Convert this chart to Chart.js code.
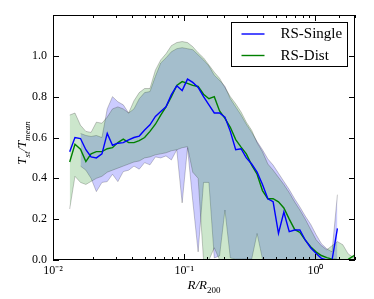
<!DOCTYPE html>
<html><head><meta charset="utf-8">
<script src="https://cdn.jsdelivr.net/npm/chart.js@4.4.1/dist/chart.umd.min.js"></script>
<style>html,body{margin:0;padding:0;background:#fff}</style>
</head><body>
<canvas id="c" width="374" height="299"></canvas>
<script>
// R/R200 bin centres
const radius = [0.0134,0.0147,0.0162,0.0178,0.0195,0.0214,0.0236,0.0259,0.0284,0.0312,
  0.0343,0.0377,0.0414,0.0454,0.0499,0.0548,0.0603,0.0662,0.0726,0.0798,
  0.0877,0.0964,0.1059,0.1161,0.1276,0.1403,0.1542,0.1694,0.1858,0.2042,
  0.2244,0.2466,0.2710,0.2972,0.3266,0.3589,0.3945,0.4335,0.4753,0.5224,
  0.5741,0.6310,0.6934,0.7603,0.8356,0.9183,1.009,1.109,1.219,1.337,
  1.469,1.614,1.774,1.950,2.138];

// RS-Single
const singleMean = [0.53,0.60,0.595,0.54,0.505,0.50,0.52,0.62,0.562,0.572,
  0.575,0.588,0.60,0.607,0.637,0.662,0.703,0.727,0.75,0.81,
  0.853,0.83,0.886,0.87,0.845,0.80,0.76,0.72,0.72,0.70,
  0.63,0.54,0.545,0.50,0.47,0.43,0.37,0.30,0.286,0.13,
  0.235,0.139,0.147,0.147,0.098,0.06,0.033,0.008,0.0,0.0,
  0.155,null,null,null,null];
const singleUpper = [null,null,0.62,0.61,0.605,0.61,0.60,0.74,0.80,0.775,
  0.76,0.72,0.74,0.79,0.82,0.825,0.90,0.965,0.99,1.02,
  1.035,1.04,1.035,1.03,1.005,0.98,0.95,0.905,0.88,0.85,
  0.79,0.75,0.71,0.665,0.625,0.58,0.54,0.495,0.465,0.425,
  0.385,0.345,0.30,0.26,0.215,0.175,0.125,0.08,0.055,0.04,
  0.32,null,null,null,null];
const singleLower = [null,null,0.46,0.44,0.40,0.335,0.38,0.384,0.42,0.384,
  0.433,0.44,0.46,0.445,0.477,0.466,0.505,0.50,0.51,0.49,
  0.54,0.28,0.55,0.29,0.04,0.38,0.38,0.01,0.02,0.245,
  0.01,0.005,0.005,0.005,0.005,0.13,0.005,0.0,0.0,0.0,
  0.0,0.0,0.0,0.0,0.0,0.0,0.0,0.0,0.0,0.0,
  0.0,null,null,null,null];

// RS-Dist
const distMean = [0.48,0.567,0.543,0.482,0.52,0.531,0.531,0.545,0.55,0.575,
  0.592,0.575,0.575,0.585,0.60,0.63,0.665,0.71,0.75,0.80,
  0.855,0.874,0.865,0.855,0.85,0.812,0.79,0.80,0.73,0.694,
  0.65,0.59,0.553,0.52,0.465,0.42,0.34,0.30,0.30,0.285,
  0.255,0.20,0.15,0.135,0.097,0.065,0.04,0.022,0.012,0.004,
  0.001,0.0,0.003,0.02,0.04];
const distUpper = [0.71,0.72,0.66,0.63,0.625,0.675,0.67,0.70,0.74,0.75,
  0.74,0.72,0.78,0.82,0.84,0.84,0.93,0.98,1.01,1.05,
  1.065,1.07,1.065,1.045,1.015,0.99,0.955,0.92,0.89,0.845,
  0.80,0.765,0.725,0.675,0.635,0.575,0.53,0.47,0.44,0.405,
  0.37,0.33,0.285,0.245,0.20,0.15,0.10,0.07,0.05,0.07,
  0.09,0.075,0.03,0.012,0.01];
const distLower = [0.25,0.41,0.38,0.37,0.385,0.40,0.41,0.43,0.44,0.45,
  0.46,0.47,0.48,0.485,0.50,0.505,0.515,0.52,0.525,0.535,
  0.54,0.55,0.555,0.43,0.40,0.0,0.0,0.06,0.0,0.0,
  0.0,0.0,0.0,0.0,0.0,0.0,0.0,0.0,0.0,0.0,
  0.0,0.0,0.0,0.0,0.0,0.0,0.0,0.0,0.0,0.0,
  0.0,0.0,0.0,0.0,0.0];

const yTickLabels = ['0.0','0.2','0.4','0.6','0.8','1.0'];
const seriesNames = ['RS-Single','RS-Dist'];
const xTitle = [['R/R', 'main'], ['200', 'sub']];
const yTitle = [['T', 'main'], ['st', 'sub'], ['/T', 'main'], ['mean', 'sub']];

const SERIF = "'Liberation Serif','Times New Roman',serif";
const pts = arr => radius.map((x,i) => ({x, y: arr[i]}));
const SUP = {'-':'\u207B','0':'\u2070','1':'\u00B9','2':'\u00B2','3':'\u00B3','4':'\u2074','5':'\u2075','6':'\u2076','7':'\u2077','8':'\u2078','9':'\u2079'};
const sup = n => String(n).split('').map(c => SUP[c]).join('');
const isPow10 = v => { const l = Math.log10(v); return Math.abs(l - Math.round(l)) < 1e-6; };

function drawRich(ctx, parts, digitsUpright) {
  const fontOf = (kind, txt) => {
    const italic = !(digitsUpright && /^[0-9]+$/.test(txt));
    return (italic ? 'italic ' : '') + (kind === 'main' ? '13px ' : '9px ') + SERIF;
  };
  let w = 0;
  parts.forEach(([t, k]) => { ctx.font = fontOf(k, t); w += ctx.measureText(t).width; });
  let x = -w / 2;
  parts.forEach(([t, k]) => {
    ctx.font = fontOf(k, t);
    ctx.fillText(t, x, k === 'sub' ? 3.5 : 0);
    x += ctx.measureText(t).width;
  });
}

const frameTicks = {
  id: 'frameTicks',
  afterDatasetsDraw(chart) {
    const {ctx, chartArea, scales} = chart;
    const L = Math.round(chartArea.left), R = Math.round(chartArea.right);
    const T = Math.round(chartArea.top), B = Math.round(chartArea.bottom);
    ctx.save();
    ctx.strokeStyle = '#000'; ctx.lineWidth = 1;
    ctx.beginPath();
    scales.x.ticks.forEach(t => {
      const px = Math.round(scales.x.getPixelForValue(t.value)) + 0.5;
      if (px < L || px > R + 1) return;
      const len = isPow10(t.value) ? 6 : 3;
      ctx.moveTo(px, B); ctx.lineTo(px, B - len);
      ctx.moveTo(px, T); ctx.lineTo(px, T + len);
    });
    scales.y.ticks.forEach(t => {
      const py = Math.round(scales.y.getPixelForValue(t.value)) + 0.5;
      ctx.moveTo(L, py); ctx.lineTo(L + 6, py);
      ctx.moveTo(R, py); ctx.lineTo(R - 6, py);
    });
    ctx.stroke();
    ctx.strokeRect(L + 0.5, T + 0.5, R - L - 1, B - T - 1);
    ctx.restore();
  },
  afterDraw(chart) {
    const {ctx, chartArea} = chart;
    ctx.save();
    ctx.fillStyle = '#000'; ctx.textBaseline = 'alphabetic'; ctx.textAlign = 'left';
    ctx.translate((chartArea.left + chartArea.right) / 2, 289);
    drawRich(ctx, xTitle, true);
    ctx.restore();
    ctx.save();
    ctx.fillStyle = '#000'; ctx.textBaseline = 'alphabetic'; ctx.textAlign = 'left';
    ctx.translate(26, 143);
    ctx.rotate(-Math.PI / 2);
    drawRich(ctx, yTitle, false);
    ctx.restore();
  }
};

const boxLegend = {
  id: 'boxLegend',
  afterDraw(chart) {
    const {ctx, chartArea} = chart;
    const bx = Math.round(chartArea.right) - 123.5, by = Math.round(chartArea.top) + 7.5;
    const bw = 116, bh = 44;
    ctx.save();
    ctx.fillStyle = '#fff'; ctx.fillRect(bx, by, bw, bh);
    ctx.strokeStyle = '#000'; ctx.lineWidth = 1; ctx.strokeRect(bx, by, bw, bh);
    [0, 1].forEach((k, j) => {
      const ds = chart.data.datasets[k];
      const yy = by + 11.5 + j * 21.5;
      ctx.strokeStyle = ds.borderColor; ctx.lineWidth = 1.4;
      ctx.beginPath(); ctx.moveTo(bx + 10, yy); ctx.lineTo(bx + 33, yy); ctx.stroke();
      ctx.fillStyle = '#000'; ctx.font = '15px ' + SERIF;
      ctx.textBaseline = 'middle'; ctx.textAlign = 'left';
      ctx.fillText(ds.label, bx + 49, yy + 0.5);
    });
    ctx.restore();
  }
};

const band = (data, bg, fill) => ({
  data: pts(data), borderColor: 'rgba(0,0,0,0.22)', borderWidth: 1,
  backgroundColor: bg, fill: fill, pointRadius: 0, tension: 0, spanGaps: false
});

new Chart(document.getElementById('c'), {
  type: 'line',
  data: {
    datasets: [
      {label: seriesNames[0], data: pts(singleMean), borderColor: '#0000ff', borderWidth: 1.4, pointRadius: 0, fill: false, tension: 0},
      {label: seriesNames[1], data: pts(distMean), borderColor: '#008000', borderWidth: 1.4, pointRadius: 0, fill: false, tension: 0},
      band(distUpper, 'rgba(0,128,0,0.2)', '+1'),
      band(distLower, 'rgba(0,0,0,0)', false),
      band(singleUpper, 'rgba(0,0,255,0.2)', '+1'),
      band(singleLower, 'rgba(0,0,0,0)', false)
    ]
  },
  options: {
    responsive: false, animation: false, devicePixelRatio: 1,
    layout: {padding: {left: 0, right: 19, top: 15, bottom: 0}},
    plugins: {legend: {display: false}, tooltip: {enabled: false}},
    scales: {
      x: {
        type: 'logarithmic', min: 0.01, max: 2,
        afterFit(s) { s.height = 39; },
        grid: {display: false, drawTicks: false}, border: {display: false},
        ticks: {autoSkip: false, maxRotation: 0, padding: 4, color: '#000',
          font: {family: SERIF, size: 12},
          callback(v) { return isPow10(v) ? '10' + sup(Math.round(Math.log10(v))) : ''; }},
        title: {display: false}
      },
      y: {
        min: 0, max: 1.2,
        afterFit(s) { s.width = 53; },
        grid: {display: false, drawTicks: false}, border: {display: false},
        ticks: {stepSize: 0.2, padding: 6, color: '#000', font: {family: SERIF, size: 12},
          callback(v) { const i = Math.round(v / 0.2); return i < yTickLabels.length ? yTickLabels[i] : ''; }},
        title: {display: false}
      }
    }
  },
  plugins: [frameTicks, boxLegend]
});
</script>
</body></html>
